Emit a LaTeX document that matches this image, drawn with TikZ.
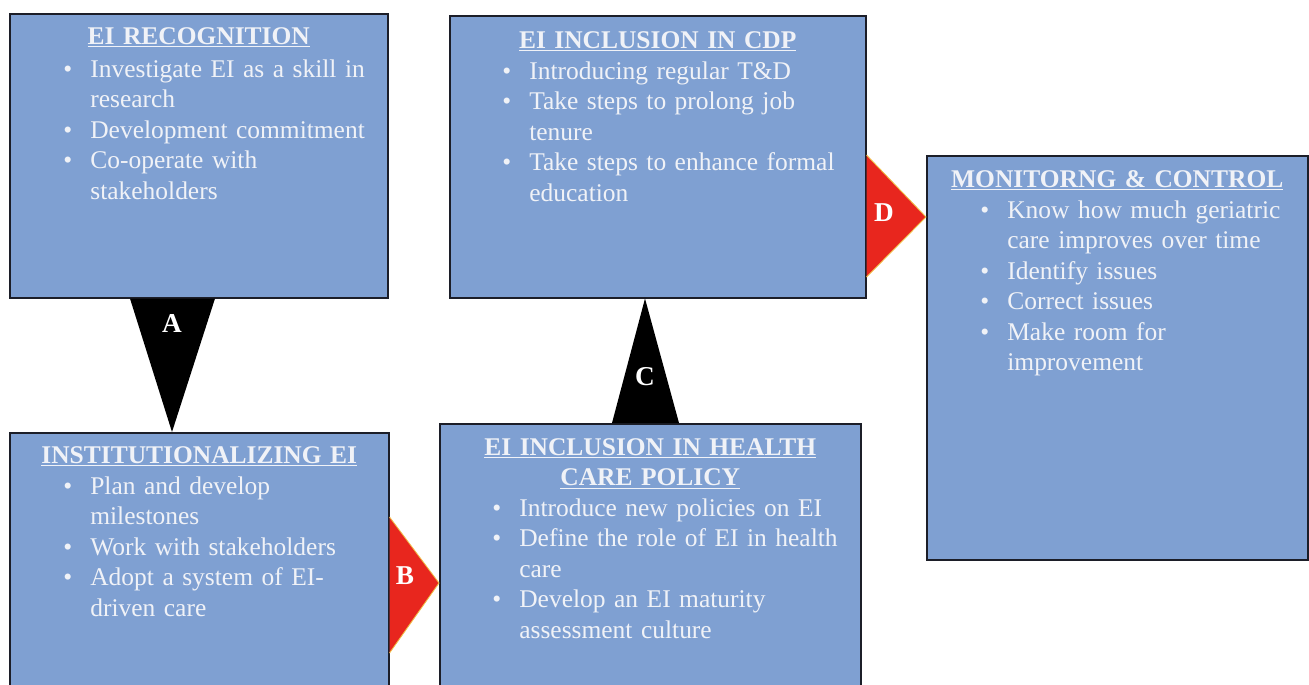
\documentclass[tikz,border=0pt]{standalone}
\usepackage{fontspec}
\setmainfont{Liberation Serif}
\usepackage{xcolor}
\usepackage{tikz}
\usetikzlibrary{calc}

\definecolor{boxblue}{RGB}{127,160,210}
\definecolor{boxline}{RGB}{28,30,40}
\definecolor{txtwhite}{RGB}{240,242,247}
\definecolor{arrred}{RGB}{232,38,30}
\definecolor{arrgold}{RGB}{240,190,70}

\newcommand{\bul}{\makebox[0.54cm][l]{\textbullet}}
\newcommand{\cont}{\hspace*{0.54cm}}

\tikzset{
    stage/.style={draw=boxline, line width=0.9pt, fill=boxblue, anchor=north west, inner sep=0pt},
    stagehead/.style={text=txtwhite, font=\fontsize{14.5}{17.4}\selectfont\bfseries, anchor=base,
                      text width=7.6cm, align=center, inner sep=0pt},
    stageitems/.style={text=txtwhite, font=\fontsize{14.5}{17.4}\selectfont, anchor=base west,
                       text width=7.6cm, align=left, inner sep=0pt},
    blackarr/.style={fill=black},
    redarr/.style={fill=arrred, draw=arrgold, line width=0.5pt, line join=round},
    arrlabel/.style={font=\fontsize{15.5}{18}\selectfont\bfseries, text=white, inner sep=0pt}
}

\begin{document}
\begin{tikzpicture}[x=0.02cm, y=-0.02cm]
                    \path[use as bounding box, clip] (0,0) rectangle (1309,684);

                    \node[stage, minimum width=7.56cm, minimum height=5.68cm] (rec)  at (9,13)    {};
                    \node[stage, minimum width=8.32cm, minimum height=5.64cm] (cdp)  at (449,15)  {};
                    \node[stage, minimum width=7.62cm, minimum height=8.08cm] (mon)  at (926,155) {};
                    \node[stage, minimum width=7.58cm, minimum height=5.20cm] (inst) at (9,432)   {};
                    \node[stage, minimum width=8.42cm, minimum height=5.40cm] (pol)  at (439,423) {};

                    \node[stagehead] (recT)  at ($(rec.north)+(0,31)$)  {\underline{EI RECOGNITION}};
                    \node[stagehead] (cdpT)  at ($(cdp.north)+(0,33)$)  {\underline{EI INCLUSION IN CDP}};
                    \node[stagehead] (monT)  at ($(mon.north)+(0,32)$)  {\underline{MONITORNG \& CONTROL}};
                    \node[stagehead] (instT) at ($(inst.north)+(0,31)$) {\underline{INSTITUTIONALIZING EI}};
                    \node[stagehead] (polT)  at ($(pol.north)+(0,32)$)  {\underline{EI INCLUSION IN HEALTH}\\\underline{CARE POLICY}};

                    \node[stageitems] (recI) at ($(rec.north west)+(54,64)$) {
                        \bul Investigate EI as a skill in\\ \cont research\\
                        \bul Development commitment\\
                        \bul Co-operate with\\ \cont stakeholders};
                    \node[stageitems] (cdpI) at ($(cdp.north west)+(53,64)$) {
                        \bul Introducing regular T\&D\\
                        \bul Take steps to prolong job\\ \cont tenure\\
                        \bul Take steps to enhance formal\\ \cont education};
                    \node[stageitems] (monI) at ($(mon.north west)+(54,63)$) {
                        \bul Know how much geriatric\\ \cont care improves over time\\
                        \bul Identify issues\\
                        \bul Correct issues\\
                        \bul Make room for\\ \cont improvement};
                    \node[stageitems] (instI) at ($(inst.north west)+(54,62)$) {
                        \bul Plan and develop\\ \cont milestones\\
                        \bul Work with stakeholders\\
                        \bul Adopt a system of EI-\\ \cont driven care};
                    \node[stageitems] (polI) at ($(pol.north west)+(53,93)$) {
                        \bul Introduce new policies on EI\\
                        \bul Define the role of EI in health\\ \cont care\\
                        \bul Develop an EI maturity\\ \cont assessment culture};

                    \fill[blackarr] ($(rec.south west)+(121,0)$) -- ($(rec.south west)+(206,0)$)
                                    -- ($(inst.north west)+(163,0)$) -- cycle;
                    \fill[blackarr] ($(pol.north west)+(173,0)$) -- ($(pol.north west)+(240,0)$)
                                    -- ($(cdp.south west)+(196,0)$) -- cycle;
                    \filldraw[redarr] ($(inst.north east)+(0,85)$) -- ($(pol.north west)+(0,160)$)
                                      -- ($(inst.north east)+(0,221)$);
                    \filldraw[redarr] ($(cdp.north east)+(0,140)$) -- ($(mon.north west)+(0,62)$)
                                      -- ($(cdp.north east)+(0,262)$);

                    \node[arrlabel] (labA) at (172,324) {A};
                    \node[arrlabel] (labB) at (405,576) {B};
                    \node[arrlabel] (labC) at (645,377) {C};
                    \node[arrlabel] (labD) at (884,213) {D};
                 \end{tikzpicture}
\end{document}
